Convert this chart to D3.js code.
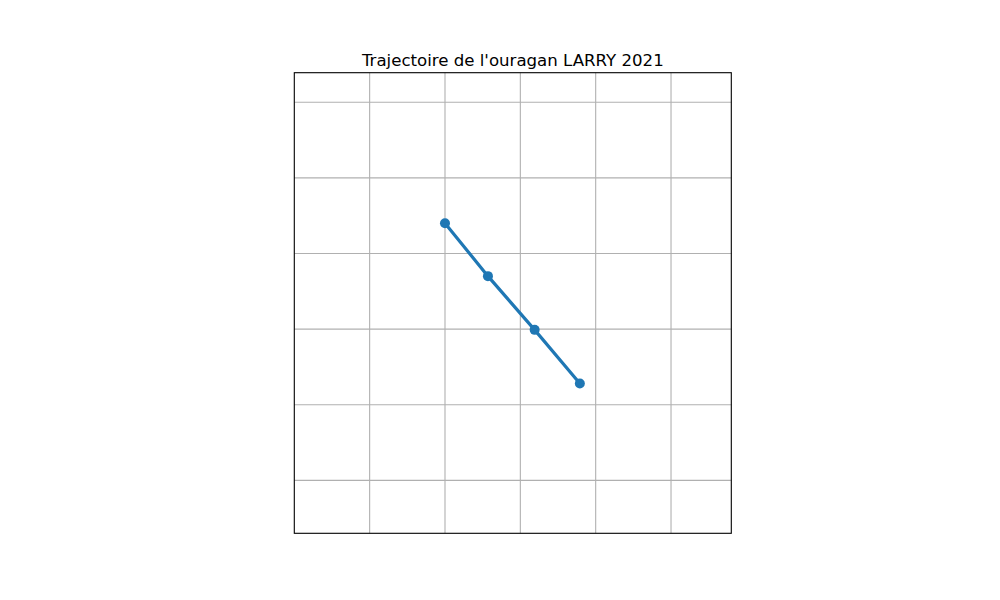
<!DOCTYPE html>
<html>
<head>
<meta charset="utf-8">
<script src="https://cdn.jsdelivr.net/npm/d3@7"></script>
<style>
  body { margin: 0; background: #fff; }
  svg { font-family: "DejaVu Sans", sans-serif; }
</style>
</head>
<body>
<div id="chart"></div>
<script>
// track points (lon, lat)
const lons = [-26.0, -25.43, -24.81, -24.21];
const lats = [13.40, 12.70, 11.99, 11.28];

// grid lines
const lonTicks = [-27, -26, -25, -24, -23];
const latTicks = [10, 11, 12, 13, 14, 15];

const lonExtent = [-28.0, -22.2];
const latExtent = [9.30, 15.39];

const width = 1000, height = 600;
const box = { left: 294.3, right: 731.3, top: 72.7, bottom: 533.3 };
const blue = "#1f77b4";

let svg = d3.select("#chart").append("svg")
  .attr("width", width)
  .attr("height", height);

let x = d3.scaleLinear().domain(lonExtent).range([box.left, box.right]);
let y = d3.scaleLinear().domain(latExtent).range([box.bottom, box.top]);

/* grid */
let grid = svg.append("g").attr("class", "grid");

grid.selectAll(".vgrid")
  .data(lonTicks).enter()
  .append("line")
  .attr("x1", d => x(d)).attr("x2", d => x(d))
  .attr("y1", box.top).attr("y2", box.bottom)
  .attr("stroke", "#b0b0b0")
  .attr("stroke-width", 1.1);

grid.selectAll(".hgrid")
  .data(latTicks).enter()
  .append("line")
  .attr("x1", box.left).attr("x2", box.right)
  .attr("y1", d => y(d)).attr("y2", d => y(d))
  .attr("stroke", "#b0b0b0")
  .attr("stroke-width", 1.1);

/* track */
let pts = lons.map((lon, i) => ({ lon: lon, lat: lats[i] }));

let line = d3.line()
  .x(d => x(d.lon))
  .y(d => y(d.lat));

svg.append("path")
  .datum(pts)
  .attr("d", line)
  .attr("fill", "none")
  .attr("stroke", blue)
  .attr("stroke-width", 3.2);

svg.selectAll(".pt")
  .data(pts).enter()
  .append("circle")
  .attr("cx", d => x(d.lon))
  .attr("cy", d => y(d.lat))
  .attr("r", 5)
  .attr("fill", blue);

/* frame */
svg.append("rect")
  .attr("x", box.left)
  .attr("y", box.top)
  .attr("width", box.right - box.left)
  .attr("height", box.bottom - box.top)
  .attr("fill", "none")
  .attr("stroke", "#000")
  .attr("stroke-width", 1.1);

/* title */
svg.append("text")
  .attr("x", (box.left + box.right) / 2)
  .attr("y", 65.5)
  .attr("text-anchor", "middle")
  .attr("font-size", "16.6px")
  .attr("fill", "#000")
  .text("Trajectoire de l'ouragan LARRY 2021");
</script>
</body>
</html>
